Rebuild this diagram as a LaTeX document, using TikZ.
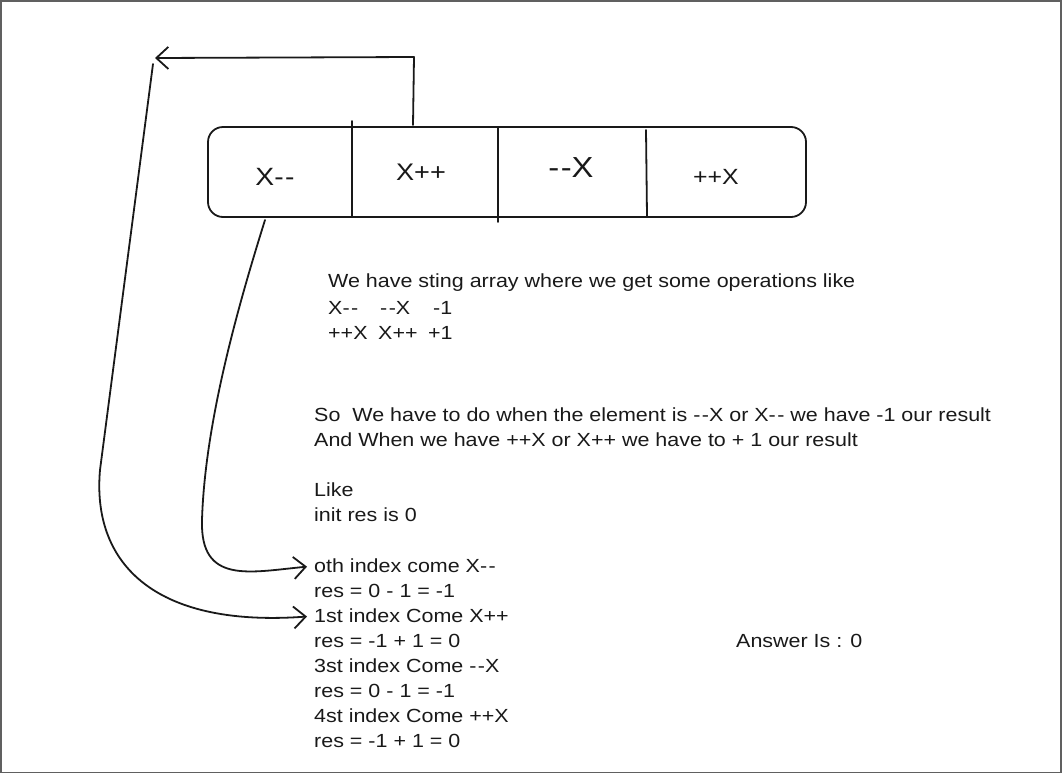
\documentclass[tikz,border=0pt]{standalone}
\usepackage{fontspec}
\setmainfont{Liberation Sans}[Ligatures=TeXOff, FakeStretch=1.13]
\usetikzlibrary{arrows.meta}
\tikzset{
  ink/.style={draw=black!90, line width=1.8pt, line cap=round, line join=round},
  arr/.style={ink, -{Straight Barb[length=12pt, width=22pt, line width=1.8pt]}},
  txt/.style={anchor=west, inner sep=0pt, font=\fontsize{19}{22}\selectfont, text=black!90},
  cell/.style={anchor=center, inner sep=0pt, text=black!90},
}
\newcommand{\dsh}{-\kern1.5pt-}
\begin{document}
\begin{tikzpicture}[x=1pt,y=-1pt]
\useasboundingbox (0,0) rectangle (1062,774);
\draw[gray!75!black, line width=1.5pt] (0.75,0.75) rectangle (1061,772.5);
% array box
\draw[ink, rounded corners=15pt] (208,127) rectangle (806,217);
\draw[ink] (352,121) -- (352,217);
\draw[ink] (498,127) -- (498,222);
\draw[ink] (646,130) -- (647,216);
\coordinate (xtop) at (413,125);
\coordinate (corner) at (414,57);
\coordinate (tl) at (155,58);
\coordinate (tl2) at (153,64);
\coordinate (xbot) at (265,220);
\node[cell, font=\fontsize{25}{27}\selectfont] (c0) at (275,177) {X\dsh};
\node[cell, font=\fontsize{24}{26}\selectfont] (c1) at (421,172) {X++};
\node[cell, font=\fontsize{29}{31}\selectfont] (c2) at (571,168) {\dsh X};
\node[cell, font=\fontsize{22}{24}\selectfont] (c3) at (716,177) {++X};
% text block 1
\node[txt] (t1) at (328,283) {We have sting array where we get some operations like};
\node[txt] (t2a) at (328,308) {X\dsh};
\node[txt] (t2b) at (380,308) {\dsh X};
\node[txt] (t2c) at (433,308) {-1};
\node[txt] (t3a) at (328,333) {++X};
\node[txt] (t3b) at (378,333) {X++};
\node[txt] (t3c) at (428,333) {+1};
% text block 2
\node[txt] (s1) at (314,415) {So\ \ We have to do when the element is \dsh X or X\dsh{} we have -1 our result};
\node[txt] (s2) at (314,440) {And When we have ++X or X++ we have to + 1 our result};
\node[txt] (s3) at (314,490) {Like};
\node[txt] (s4) at (314,515) {init res is 0};
\node[txt] (i0) at (314,566) {oth index come X\dsh};
\node[txt] (r0) at (314,591) {res = 0 - 1 = -1};
\node[txt] (i1) at (314,616) {1st index Come X++};
\node[txt] (r1) at (314,641) {res = -1 + 1 = 0};
\node[txt] (i2) at (314,666) {3st index Come \dsh X};
\node[txt] (r2) at (314,691) {res = 0 - 1 = -1};
\node[txt] (i3) at (314,716) {4st index Come ++X};
\node[txt] (r3) at (314,741) {res = -1 + 1 = 0};
\node[txt] (ans) at (736,641) {Answer Is : 0};
% connectors
\draw[arr] (xtop) -- (corner) -- (tl);
\draw[arr, shorten >=7pt] (tl2) -- (100,470) .. controls (92,560) and (150,628) .. (i1.west);
\draw[arr, shorten >=7pt] (xbot) .. controls (240,300) and (205,420) .. (202,520)
   .. controls (200,585) and (250,572) .. (i0.west);
\end{tikzpicture}
\end{document}
